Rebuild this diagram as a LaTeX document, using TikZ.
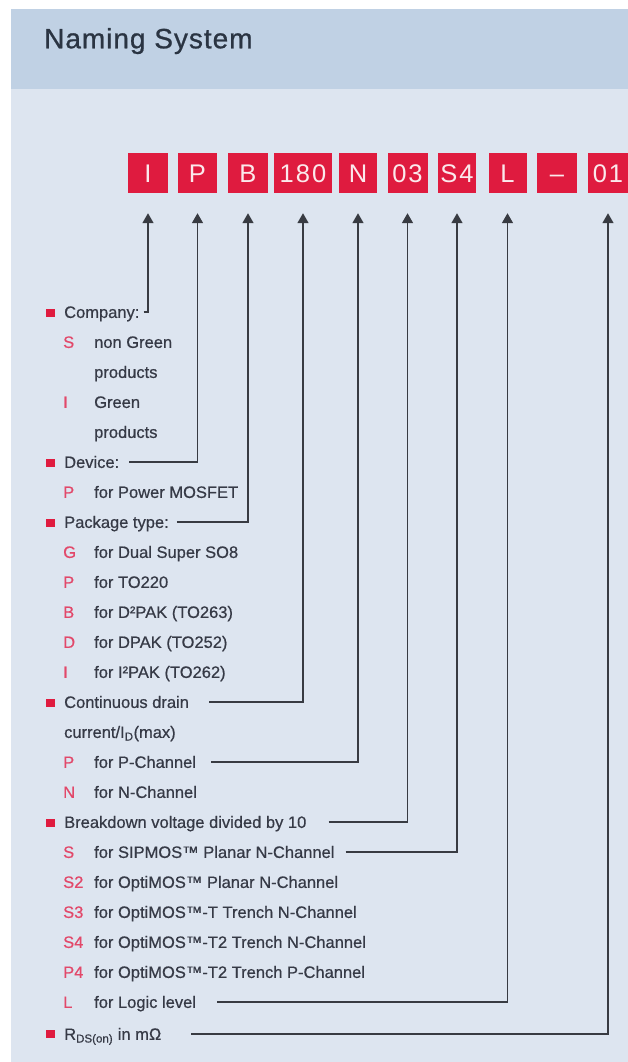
\documentclass[tikz,border=0pt]{standalone}
\usepackage{fontspec}
\setmainfont[FakeBold=0.6]{Liberation Sans}
\newfontfamily\titlefam[LetterSpace=3.5,FakeBold=0.8]{Liberation Sans}
\newfontfamily\boxfam[LetterSpace=8]{Liberation Sans}
\usetikzlibrary{arrows.meta}
\definecolor{hdrbg}{HTML}{C0D1E4}
\definecolor{bodybg}{HTML}{DDE5F0}
\definecolor{boxred}{HTML}{DF1B3F}
\definecolor{boxtxt}{HTML}{FBE9EC}
\definecolor{codered}{HTML}{E2486A}
\definecolor{txt}{HTML}{363A46}
\definecolor{ttl}{HTML}{2A3442}
\definecolor{linecol}{HTML}{383B42}
\tikzset{
  codebox/.style={fill=boxred, text=boxtxt, minimum height=40, inner sep=0,
    text height=18.3, text depth=0, font=\boxfam\fontsize{25.5}{26}\selectfont},
  lbl/.style={anchor=west, inner sep=0, text height=11.8, text depth=0, text=txt,
    font=\fontsize{16.5}{18}\selectfont},
  codelbl/.style={lbl, text=codered},
  bulletsq/.style={fill=boxred, minimum width=9, minimum height=8.5, inner sep=0},
  conn/.style={draw=linecol, line width=1.6, -{Triangle[width=11,length=10]},
    shorten >=20, shorten <=6}
}
\begin{document}
\begin{tikzpicture}[x=1pt, y=-1pt]
\useasboundingbox (0,0) rectangle (628,1062);
% backgrounds
\fill[bodybg] (11,89) rectangle (628,1062);
\fill[hdrbg] (11,9) rectangle (628,89);
\node[anchor=base west, inner sep=0, text=ttl, font=\titlefam\fontsize{28}{30}\selectfont] (title) at (44,48.3) {Naming System};
% code boxes
\node[codebox, minimum width=40] (bI) at (148,173) {I};
\node[codebox, minimum width=39] (bP) at (197.5,173) {P};
\node[codebox, minimum width=40] (bB) at (248,173) {B};
\node[codebox, minimum width=58] (b180) at (303,173) {180};
\node[codebox, minimum width=38] (bN) at (358,173) {N};
\node[codebox, minimum width=40] (b03) at (407.5,173) {03};
\node[codebox, minimum width=38] (bS4) at (457,173) {S4};
\node[codebox, minimum width=38] (bL) at (507.5,173) {L};
\node[codebox, minimum width=40] (bdash) at (557,173) {–};
\node[codebox, minimum width=40] (b01) at (608,173) {01};
% legend
\node[bulletsq] (q1) at (50.5,313) {};
\node[lbl] (company) at (64,312) {Company:};
\node[codelbl] (c1) at (63,342) {S};
\node[lbl] (d1) at (94,342) {non Green};
\node[lbl] (d1b) at (94,372) {products};
\node[codelbl] (c2) at (63,402) {I};
\node[lbl] (d2) at (94,402) {Green};
\node[lbl] (d2b) at (94,432) {products};
\node[bulletsq] (q2) at (50.5,463) {};
\node[lbl] (device) at (64,462) {Device:};
\node[codelbl] (c3) at (63,492) {P};
\node[lbl] (d3) at (94,492) {for Power MOSFET};
\node[bulletsq] (q3) at (50.5,523) {};
\node[lbl] (pkg) at (64,522) {Package type:};
\node[codelbl] (c4) at (63,552) {G};
\node[lbl] (d4) at (94,552) {for Dual Super SO8};
\node[codelbl] (c5) at (63,582) {P};
\node[lbl] (d5) at (94,582) {for TO220};
\node[codelbl] (c6) at (63,612) {B};
\node[lbl] (d6) at (94,612) {for D²PAK (TO263)};
\node[codelbl] (c7) at (63,642) {D};
\node[lbl] (d7) at (94,642) {for DPAK (TO252)};
\node[codelbl] (c8) at (63,672) {I};
\node[lbl] (d8) at (94,672) {for I²PAK (TO262)};
\node[bulletsq] (q4) at (50.5,703) {};
\node[lbl] (cont) at (64,702) {Continuous drain};
\node[lbl] (cont2) at (64,732) {current/I\textsubscript{D}(max)};
\node[codelbl] (c9) at (63,762) {P};
\node[lbl] (pch) at (94,762) {for P-Channel};
\node[codelbl] (c10) at (63,792) {N};
\node[lbl] (nch) at (94,792) {for N-Channel};
\node[bulletsq] (q5) at (50.5,823) {};
\node[lbl] (bv) at (64,822) {Breakdown voltage divided by 10};
\node[codelbl] (c11) at (63,852) {S};
\node[lbl] (sip) at (94,852) {for SIPMOS™ Planar N-Channel};
\node[codelbl] (c12) at (63,882) {S2};
\node[lbl] (d12) at (94,882) {for OptiMOS™ Planar N-Channel};
\node[codelbl] (c13) at (63,912) {S3};
\node[lbl] (d13) at (94,912) {for OptiMOS™-T Trench N-Channel};
\node[codelbl] (c14) at (63,942) {S4};
\node[lbl] (d14) at (94,942) {for OptiMOS™-T2 Trench N-Channel};
\node[codelbl] (c15) at (63,972) {P4};
\node[lbl] (d15) at (94,972) {for OptiMOS™-T2 Trench P-Channel};
\node[codelbl] (c16) at (63,1002) {L};
\node[lbl] (logic) at (94,1002) {for Logic level};
\node[bulletsq] (q6) at (50.5,1034) {};
\node[lbl] (rds) at (64,1034) {R\textsubscript{DS(on)} in mΩ};
% connectors
\draw[conn, shorten <=4] (company.east) -| (bI.south);
\draw[conn, shorten <=10] (device.east) -| (bP.south);
\draw[conn, shorten <=8] (pkg.east) -| (bB.south);
\draw[conn, shorten <=20] (cont.east) -| (b180.south);
\draw[conn, shorten <=15] (pch.east) -| (bN.south);
\draw[conn, shorten <=22] (bv.east) -| (b03.south);
\draw[conn, shorten <=11] (sip.east) -| (bS4.south);
\draw[conn, shorten <=21] (logic.east) -| (bL.south);
\draw[conn, shorten <=30] (rds.east) -| (b01.south);
\end{tikzpicture}
\end{document}
